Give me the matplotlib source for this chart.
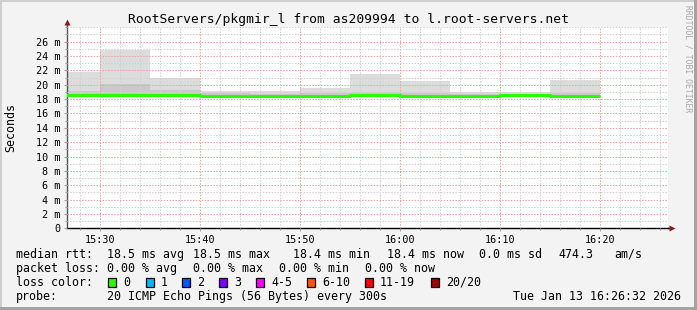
import matplotlib
matplotlib.use("Agg")
import matplotlib.pyplot as plt
from matplotlib.patches import Rectangle
from matplotlib.ticker import FixedLocator, FuncFormatter, MultipleLocator

# ---------------- data ----------------
bin_edges = ["15:25", "15:30", "15:35", "15:40", "15:45", "15:50", "15:55",
             "16:00", "16:05", "16:10", "16:15", "16:20"]
rtt_max = [21.8, 24.85, 20.98, 19.15, 19.1, 19.6, 21.5, 20.5, 19.0, 19.0, 20.7]
rtt_inner = [19.1, 20.05, 19.27, 18.8, 18.75, 18.9, 19.0, 18.9, 18.7, 18.7, 18.8]
rtt_min = [18.38, 18.38, 18.38, 18.28, 18.28, 18.33, 18.38, 18.28, 18.33, 18.38, 18.28]
rtt_median = [18.5, 18.5, 18.5, 18.4, 18.4, 18.45, 18.5, 18.4, 18.45, 18.5, 18.4]

x_tick_labels = ["15:30", "15:40", "15:50", "16:00", "16:10", "16:20"]
y_ticks = [0, 2, 4, 6, 8, 10, 12, 14, 16, 18, 20, 22, 24, 26]

title = "RootServers/pkgmir_l from as209994 to l.root-servers.net"
loss_labels = ["0", "1", "2", "3", "4-5", "6-10", "11-19", "20/20"]
loss_colors = ["#26ff00", "#00b8ff", "#0059ff", "#7e00ff", "#ff00ff",
               "#ff5500", "#ff0000", "#a00000"]
rtt_stats = ["18.5 ms avg", "18.5 ms max", "18.4 ms min", "18.4 ms now",
             "0.0 ms sd", "474.3", "am/s"]
loss_stats = ["0.00 % avg", "0.00 % max", "0.00 % min", "0.00 % now"]
probe_text = "20 ICMP Echo Pings (56 Bytes) every 300s"
date_text = "Tue Jan 13 16:26:32 2026"


def to_min(s):
    h, m = s.split(":")
    return (int(h) - 15) * 60 + int(m)


# ---------------- figure ----------------
W, H = 697, 310
plt.rcParams['font.family'] = ['DejaVu Sans Mono']
fig = plt.figure(figsize=(W / 100, H / 100), dpi=100, facecolor="#f3f3f3")


def fx(px):
    return px / W


def fy(py):
    return 1 - py / H


# frame
fig.patches.append(Rectangle((0, fy(2)), 1, 2 / H, transform=fig.transFigure,
                             facecolor="#cfcfcf", edgecolor="none"))
fig.patches.append(Rectangle((0, 0), 2 / W, 1, transform=fig.transFigure,
                             facecolor="#cfcfcf", edgecolor="none"))
fig.patches.append(Rectangle((0, 0), 1, 3 / H, transform=fig.transFigure,
                             facecolor="#a3a3a3", edgecolor="none"))
fig.patches.append(Rectangle((fx(W - 3), 0), 3 / W, 1, transform=fig.transFigure,
                             facecolor="#a3a3a3", edgecolor="none"))

L, R, T, B = 67, 668, 27.3, 228.3
ax = fig.add_axes([fx(L), fy(B), fx(R) - fx(L), (B - T) / H])
ax.set_facecolor("white")

edges = [to_min(s) for s in bin_edges]
ax.fill_between(edges, rtt_min + [rtt_min[-1]], rtt_max + [rtt_max[-1]],
                step="post", facecolor="#dcdcdc", edgecolor="none", zorder=1)
ax.fill_between(edges, rtt_min + [rtt_min[-1]], rtt_inner + [rtt_inner[-1]],
                step="post", facecolor="#c9c9c9", edgecolor="none", zorder=1.1)
ax.step(edges, rtt_median + [rtt_median[-1]], where="post", color="#26ff00",
        lw=2.2, zorder=3, solid_capstyle="butt")

ax.set_xlim(26.7, 86.8)
ax.set_ylim(0, 28)

ax.xaxis.set_major_locator(FixedLocator([to_min(s) for s in x_tick_labels]))
ax.set_xticklabels(x_tick_labels)
ax.xaxis.set_minor_locator(MultipleLocator(2))
ax.yaxis.set_major_locator(FixedLocator(y_ticks))
ax.yaxis.set_major_formatter(FuncFormatter(lambda v, p: "0" if v == 0 else f"{int(v)} m"))
ax.yaxis.set_minor_locator(MultipleLocator(1))

ax.grid(which="minor", color="#d2d2d2", lw=0.75, ls=(0, (1.4, 1.4)))
ax.grid(which="major", color="#f2a0a0", lw=0.75, ls=(0, (1.4, 1.4)))
ax.set_axisbelow(False)

ax.tick_params(which="both", direction="out", color="#a0a0a0", width=0.75)
ax.tick_params(which="major", length=2.5, labelsize=7.3, pad=2.2)
ax.tick_params(which="minor", length=1.5)
ax.tick_params(axis="x", which="major", pad=2.5)

for s in ("top", "right"):
    ax.spines[s].set_visible(False)
ax.spines["left"].set_color("#555555")
ax.spines["left"].set_linewidth(1.0)
ax.spines["bottom"].set_color("black")
ax.spines["bottom"].set_linewidth(1.0)

# axis extensions with arrows
ax.plot([0, 0], [1, 1.02], transform=ax.transAxes, color="#555555", lw=1.0, clip_on=False)
ax.plot([1, 1.006], [0, 0], transform=ax.transAxes, color="black", lw=1.0, clip_on=False)
ax.plot([0], [1.025], transform=ax.transAxes, marker="^", ms=4.5, color="#8b1a1a",
        clip_on=False, mec="none")
ax.plot([1.007], [0], transform=ax.transAxes, marker=">", ms=4.5, color="#8b1a1a",
        clip_on=False, mec="none")

fig.text(fx(10.3), fy(127.5), "Seconds", rotation=90, ha="center", va="center",
         fontsize=8.4)

fig.text(fx(348), fy(19), title, ha="center", va="center", fontsize=9.4)
fig.text(fx(688), fy(59), "RRDTOOL / TOBI OETIKER", rotation=-90, ha="center",
         va="center", fontsize=5.8, color="#a8a8a8")

fs = 8.4
# row 1
y1 = 254.3
fig.text(fx(16), fy(y1), "median rtt:", va="center", fontsize=fs)
for xp, s in zip([107.3, 193.3, 293.3, 386.7, 479.3, 558.3, 614.3], rtt_stats):
    fig.text(fx(xp), fy(y1), s, va="center", fontsize=fs)
# row 2
y2 = 268.3
fig.text(fx(16), fy(y2), "packet loss:", va="center", fontsize=fs)
for xp, s in zip([107.3, 193.3, 279.3, 365.0], loss_stats):
    fig.text(fx(xp), fy(y2), s, va="center", fontsize=fs)
# row 3
y3 = 282.3
fig.text(fx(16), fy(y3), "loss color:", va="center", fontsize=fs)
box_x = [108.3, 145.7, 182.3, 219.0, 256.0, 307.3, 365.0, 431.0]
for xp, lab, col in zip(box_x, loss_labels, loss_colors):
    fig.patches.append(Rectangle((fx(xp), fy(286.7)), 8 / W, 9 / H,
                                 transform=fig.transFigure, facecolor=col,
                                 edgecolor="black", lw=0.9))
    fig.text(fx(xp + 15), fy(y3), lab, va="center", fontsize=fs)
# row 4
y4 = 296.3
fig.text(fx(16), fy(y4), "probe:", va="center", fontsize=fs)
fig.text(fx(107.3), fy(y4), probe_text, va="center", fontsize=fs)
fig.text(fx(513.3), fy(y4), date_text, va="center", fontsize=fs)

fig.savefig("out.png", dpi=100, facecolor=fig.get_facecolor())
